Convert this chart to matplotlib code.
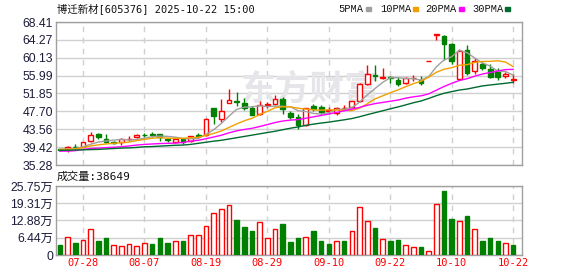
import matplotlib
matplotlib.use("Agg")
import matplotlib.pyplot as plt
from matplotlib.patches import Rectangle
import numpy as np

# trading days shown (07-23 .. 10-22)
dates = ["07-23", "07-24", "07-25", "07-28", "07-29", "07-30", "07-31",
         "08-01", "08-04", "08-05", "08-06", "08-07", "08-08", "08-11", "08-12",
         "08-13", "08-14", "08-15", "08-18", "08-19", "08-20", "08-21", "08-22",
         "08-25", "08-26", "08-27", "08-28", "08-29",
         "09-01", "09-02", "09-03", "09-04", "09-05", "09-08", "09-09", "09-10",
         "09-11", "09-12", "09-15", "09-16", "09-17", "09-18", "09-19", "09-22",
         "09-23", "09-24", "09-25", "09-26", "09-29", "09-30",
         "10-09", "10-10", "10-13", "10-14", "10-15", "10-16", "10-17", "10-20",
         "10-21", "10-22"]

opens = [39.0, 39.0, 39.55, 39.5, 40.75, 42.4, 41.4, 40.55, 40.6, 41.3,
         41.7, 42.3, 42.35, 42.4, 41.3, 40.6, 41.2, 40.9, 42.3, 42.2,
         48.5, 46.0, 49.6, 50.1, 49.7, 48.5, 47.0, 49.2, 49.3, 50.6,
         47.4, 46.4, 44.5, 48.85, 48.7, 47.9, 47.4, 48.5, 48.7, 50.0,
         54.1, 56.2, 55.4, 55.7, 55.0, 54.2, 55.4, 55.0, 59.35, 65.5,
         65.2, 63.4, 55.1, 61.9, 57.0, 58.7, 57.6, 57.1, 55.8, 55.0]
highs = [39.1, 39.6, 40.05, 40.7, 43.0, 42.7, 42.4, 40.9, 41.5, 41.9,
         42.4, 42.6, 42.9, 42.5, 41.5, 41.6, 41.4, 42.1, 42.6, 46.1,
         48.6, 50.6, 52.8, 52.15, 50.9, 48.9, 50.2, 49.8, 51.4, 51.0,
         47.9, 47.0, 48.6, 49.4, 49.1, 48.7, 48.8, 49.1, 50.2, 54.2,
         58.4, 58.4, 57.7, 56.0, 55.6, 55.7, 56.2, 56.0, 59.45, 65.6,
         65.3, 63.6, 62.2, 63.1, 60.1, 59.1, 58.6, 57.7, 56.9, 56.4]
lows = [38.5, 38.4, 39.1, 39.4, 40.5, 41.3, 40.3, 40.05, 39.8, 40.8,
        41.6, 41.7, 41.8, 40.8, 40.7, 40.3, 40.2, 40.5, 41.7, 42.0,
        44.8, 45.3, 49.6, 48.9, 48.0, 46.9, 46.9, 48.4, 49.2, 47.2,
        46.0, 43.7, 44.4, 47.9, 47.2, 47.2, 46.8, 48.1, 48.5, 49.9,
        53.9, 54.7, 55.2, 54.2, 53.5, 54.0, 54.8, 53.9, 59.35, 64.2,
        59.7, 58.7, 55.0, 56.1, 56.3, 57.3, 55.4, 54.9, 55.4, 54.2]
closes = [38.7, 39.5, 39.45, 40.6, 42.25, 41.7, 40.6, 40.45, 41.2, 41.4,
          42.2, 42.2, 42.25, 41.85, 41.1, 41.3, 40.6, 41.9, 42.1, 46.0,
          46.6, 47.9, 50.4, 49.95, 48.55, 46.95, 49.2, 49.35, 50.6, 48.3,
          46.4, 44.6, 48.5, 48.3, 47.6, 48.0, 48.5, 48.6, 50.0, 54.1,
          56.4, 55.8, 55.75, 55.5, 54.1, 55.5, 55.5, 54.2, 59.45, 65.6,
          63.4, 59.3, 61.6, 56.7, 59.3, 57.8, 55.6, 55.6, 56.4, 55.1]

ma5 = [38.9, 39.0, 39.1, 39.5, 40.1, 40.6, 40.85, 41.05, 41.2, 41.07,
       41.17, 41.49, 41.85, 41.98, 41.92, 41.74, 41.42, 41.35, 41.4, 42.38,
       43.44, 44.9, 46.6, 48.17, 48.68, 48.75, 49.01, 48.8, 48.93, 48.88,
       48.77, 47.85, 47.68, 47.22, 47.08, 47.4, 48.18, 48.2, 48.54, 49.84,
       51.52, 52.98, 54.41, 55.51, 55.51, 55.33, 55.27, 54.96, 55.74, 58.04,
       59.62, 60.38, 61.86, 61.32, 60.06, 58.94, 58.2, 57.0, 56.94, 56.1]
ma10 = [38.9, 38.95, 39.0, 39.3, 39.7, 39.95, 40.15, 40.3, 40.45, 40.59,
        40.94, 41.2, 41.49, 41.61, 41.5, 41.46, 41.46, 41.6, 41.69, 42.15,
        42.59, 43.16, 43.98, 44.79, 45.53, 46.1, 46.96, 47.7, 48.55, 48.78,
        48.76, 48.43, 48.24, 48.07, 47.98, 48.08, 48.01, 47.94, 47.88, 48.46,
        49.46, 50.58, 51.3, 52.02, 52.67, 53.42, 54.12, 54.68, 55.62, 56.77,
        57.47, 57.82, 58.4, 58.53, 59.05, 59.28, 59.29, 59.43, 59.13, 58.08]
ma20 = [38.5, 38.5, 38.6, 38.9, 39.1, 39.2, 39.3, 39.4, 39.5, 39.7,
        39.9, 40.05, 40.15, 40.25, 40.3, 40.35, 40.5, 40.8, 41.0, 41.37,
        41.76, 42.18, 42.73, 43.2, 43.51, 43.78, 44.2, 44.65, 45.12, 45.47,
        45.68, 45.8, 46.11, 46.43, 46.76, 47.09, 47.49, 47.82, 48.22, 48.62,
        49.11, 49.5, 49.77, 50.05, 50.33, 50.76, 51.07, 51.31, 51.75, 52.62,
        53.47, 54.2, 54.86, 55.28, 55.86, 56.35, 56.71, 57.06, 57.38, 57.43]
ma30 = [38.7, 38.7, 38.75, 38.8, 38.85, 38.9, 39.0, 39.1, 39.2, 39.25,
        39.35, 39.5, 39.55, 39.65, 39.75, 39.85, 39.9, 40.05, 40.3, 40.55,
        40.8, 41.0, 41.3, 41.6, 41.9, 42.2, 42.5, 42.8, 43.1, 43.45,
        43.8, 44.1, 44.45, 44.75, 45.0, 45.21, 45.48, 45.75, 46.04, 46.46,
        46.94, 47.39, 47.84, 48.3, 48.73, 49.2, 49.7, 50.11, 50.69, 51.34,
        51.9, 52.28, 52.65, 52.88, 53.24, 53.6, 53.81, 54.02, 54.21, 54.44]

# volume in 万 shares, colour by close vs previous close
volumes = [3.9, 6.8, 4.66, 5.67, 9.77, 5.41, 6.16, 3.8, 3.43, 4.18,
           3.43, 4.55, 3.92, 6.16, 4.66, 5.29, 5.41, 7.53, 7.53, 11.0,
           15.5, 17.0, 18.5, 12.9, 10.6, 9.1, 12.4, 6.4, 9.77, 11.4,
           5.0, 6.4, 6.8, 8.77, 5.04, 3.92, 5.04, 5.04, 9.0, 18.0,
           12.76, 9.9, 6.04, 5.41, 5.78, 3.8, 3.17, 3.17, 1.57, 19.1,
           23.7, 13.25, 12.76, 14.74, 9.77, 5.04, 6.16, 5.41, 4.55, 3.86]
vol_dir = "grgrrggrrr" "rrgggrgrrr" "rrrgggrrrg" "ggrgggrgrr" "rgrggrrgrr" "ggrgrgggrg"

price_ticks = [35.28, 39.42, 43.56, 47.70, 51.85, 55.99, 60.13, 64.27, 68.41]
vol_ticks = [0, 6.44, 12.88, 19.31, 25.75]
vol_labels = ["0", "6.44万", "12.88万", "19.31万", "25.75万"]

RED = "#ff0000"
GRN = "#008000"
GRID = "#d0d0d0"
SPINE = "#a0a0a0"
LBL = "#1c1c3a"
ma_cols = {"5PMA": "#a0a0a0", "10PMA": "#f0a000", "20PMA": "#ff00ff", "30PMA": "#006a30"}

W, H = 578, 276
fig = plt.figure(figsize=(W / 100, H / 100), dpi=100)


def box(l, t, r, b):
    return [l / W, 1 - b / H, (r - l) / W, (b - t) / H]


ax = fig.add_axes(box(56, 22, 522, 165))
axv = fig.add_axes(box(56, 186, 522, 255))

x = np.arange(len(dates))
o = np.array(opens); c = np.array(closes)
up = c >= o
col = [RED if u else GRN for u in up]
face = ["white" if u else GRN for u in up]

ax.vlines(x, lows, highs, colors=col, lw=1, zorder=3)
ax.bar(x, np.maximum(np.abs(c - o), 0.05), bottom=np.minimum(o, c), width=0.62,
       color=face, edgecolor=col, linewidth=1, zorder=4)
ax.plot(x, ma5, color=ma_cols["5PMA"], lw=1, zorder=5)
ax.plot(x, ma10, color=ma_cols["10PMA"], lw=1, zorder=5)
ax.plot(x, ma20, color=ma_cols["20PMA"], lw=1, zorder=5)
ax.plot(x, ma30, color=ma_cols["30PMA"], lw=1, zorder=5)

vcol = [RED if d == "r" else GRN for d in vol_dir]
vface = ["white" if d == "r" else GRN for d in vol_dir]
axv.bar(x, volumes, width=0.6, color=vface, edgecolor=vcol, linewidth=1, zorder=3)

xt = x[3::8]
for a in (ax, axv):
    a.set_xlim(-0.52, 60.15)
    a.set_xticks(xt)
    for s in a.spines.values():
        s.set_color(SPINE)
        s.set_linewidth(1)
    a.tick_params(length=0, pad=2)
    a.grid(axis="y", color=GRID, lw=1)
    a.grid(axis="x", color=GRID, lw=1, linestyle=(0, (4, 4)))
    a.set_axisbelow(True)

ax.set_ylim(35.28, 68.41)
ax.set_yticks(price_ticks)
ax.set_yticklabels(["%.2f" % v for v in price_ticks], family="Liberation Sans",
                   fontsize=8.8, color=LBL)
ax.set_xticklabels([])

axv.set_ylim(0, 25.75)
axv.set_yticks(vol_ticks)
axv.set_yticklabels(vol_labels, family=["Liberation Sans", "Noto Sans CJK SC"],
                    fontsize=8.8, color=LBL)
axv.set_xticklabels([dates[i] for i in xt], family="DejaVu Sans Mono",
                    fontsize=7.5, color=RED)

# watermark
ax.text(310 / W, 1 - 89 / H, "东方财富", transform=fig.transFigure, ha="center",
        va="center", fontsize=25, fontweight="bold", color="#e6e6ea",
        family="Noto Sans CJK SC", zorder=1)

fig.text(57 / W, 1 - 8.5 / H, "博迁新材[605376] 2025-10-22 15:00",
         family=["DejaVu Sans Mono", "Noto Sans CJK SC"], fontsize=7.5,
         va="center", ha="left", color="#111111")
fig.text(57 / W, 1 - 177 / H, "成交量:%d" % 38649,
         family=["DejaVu Sans Mono", "Noto Sans CJK SC"], fontsize=8,
         va="center", ha="left", color="#111111")

# legend row
lx = {"5PMA": 338, "10PMA": 380, "20PMA": 425, "30PMA": 472}
sx = {"5PMA": 366, "10PMA": 413, "20PMA": 459, "30PMA": 505}
for name in ma_cols:
    fig.text(lx[name] / W, 1 - 8.5 / H, name, family="Liberation Mono",
             fontsize=7.5, va="center", ha="left", color="#111111")
    fig.patches.append(Rectangle((sx[name] / W, 1 - 10.5 / H), 5 / W, 4 / H,
                                 transform=fig.transFigure, color=ma_cols[name]))

fig.savefig("out.png", dpi=100)
